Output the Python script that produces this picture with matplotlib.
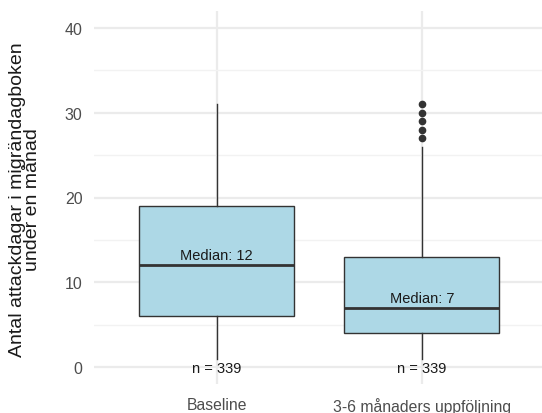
import matplotlib
matplotlib.use("Agg")
import matplotlib.pyplot as plt

# Attack days per month from the migraine diary
groups = ["Baseline", "3-6 månaders uppföljning"]
medians = [12, 7]
q1 = [6, 4]
q3 = [19, 13]
whisker_low = [1, 1]
whisker_high = [31, 26]
outliers = [[], [27, 28, 29, 30, 31]]
n_obs = [339, 339]
y_ticks = [0, 10, 20, 30, 40]

FONT = ["Liberation Sans", "DejaVu Sans"]

W, H = 542, 414
fig = plt.figure(figsize=(W / 100, H / 100), dpi=100)
left, right, top, bottom = 93.5, 542, 12, 385
ax = fig.add_axes([left / W, (H - bottom) / H, (right - left) / W, (bottom - top) / H])

stats = []
for i, g in enumerate(groups):
    stats.append(dict(label=g, med=medians[i], q1=q1[i], q3=q3[i],
                      whislo=whisker_low[i], whishi=whisker_high[i],
                      fliers=outliers[i]))

positions = list(range(1, len(groups) + 1))
ax.bxp(stats, positions=positions, widths=0.755, patch_artist=True,
       showcaps=False,
       boxprops=dict(facecolor="#ADD8E6", edgecolor="#333333", linewidth=1.0),
       medianprops=dict(color="#333333", linewidth=2.0),
       whiskerprops=dict(color="#333333", linewidth=1.0),
       flierprops=dict(marker="o", markersize=4.5, markerfacecolor="#333333",
                       markeredgecolor="#333333"),
       zorder=3)

for p, m, n in zip(positions, medians, n_obs):
    ax.text(p, m + 0.7, f"Median: {m}", ha="center", va="baseline",
            fontsize=10.5, family=FONT, color="#1a1a1a", zorder=4)
    ax.text(p, -0.15, f"n = {n}", ha="center", va="center",
            fontsize=10.5, family=FONT, color="#1a1a1a", zorder=4)

ax.set_xlim(0.4, 2.585)
ax.set_ylim(-2, 42)
ax.set_xticks(positions)
ax.set_xticklabels(groups, family=FONT, fontsize=11.3, color="#4D4D4D")
ax.set_yticks(y_ticks)
ax.set_yticklabels([str(t) for t in y_ticks], family=FONT, fontsize=11.5,
                   color="#4D4D4D")
ax.set_yticks([5, 15, 25, 35], minor=True)
ax.tick_params(axis="both", which="both", length=0)
ax.tick_params(axis="x", pad=9.5)
ax.tick_params(axis="y", pad=8)

ax.grid(True, which="major", color="#EBEBEB", linewidth=1.6, zorder=0)
ax.grid(True, which="minor", axis="y", color="#F2F2F2", linewidth=1.0, zorder=0)
ax.set_axisbelow(True)
for s in ax.spines.values():
    s.set_visible(False)

fig.text(25 / W, 1 - 200 / H,
         "Antal attackdagar i migrändagboken\nunder en månad",
         rotation=90, ha="center", va="center", multialignment="center",
         linespacing=0.8, fontsize=14, family=FONT, color="#1a1a1a")

fig.savefig("out.png", dpi=100)
